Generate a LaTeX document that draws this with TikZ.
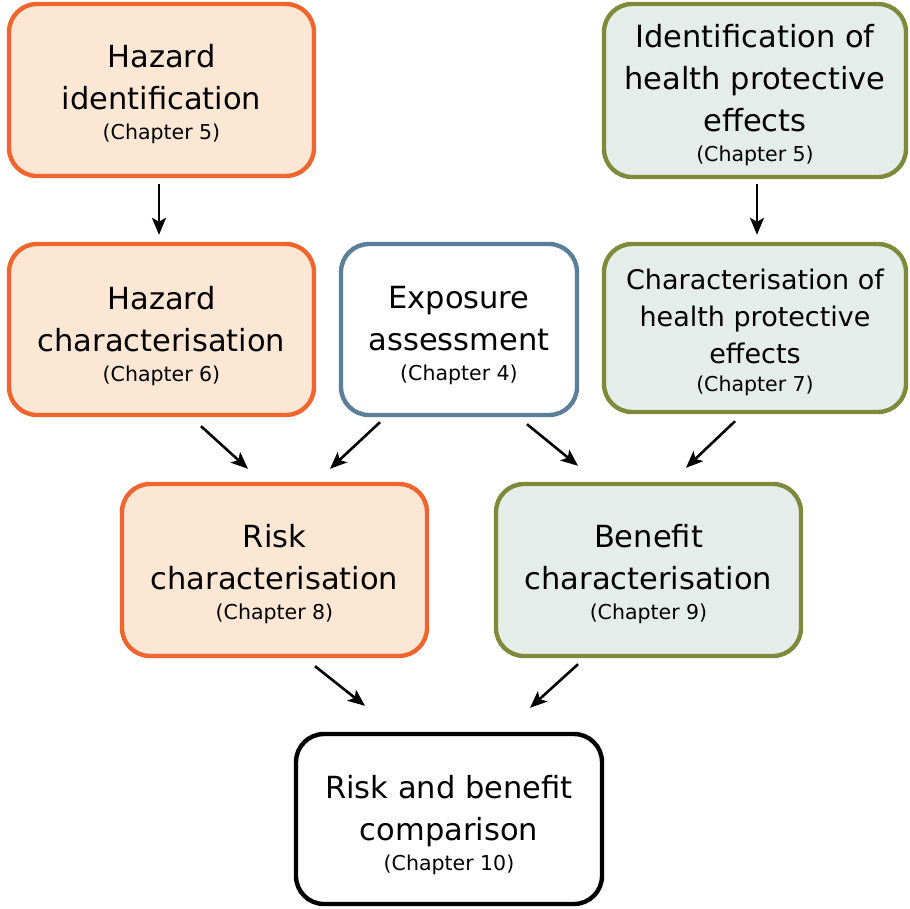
\documentclass[tikz,border=0pt]{standalone}
\usepackage{fontspec}
\setmainfont{DejaVu Sans}
\usetikzlibrary{arrows.meta}

\definecolor{riskline}{RGB}{240,100,45}
\definecolor{riskfill}{RGB}{252,231,212}
\definecolor{benline}{RGB}{126,138,58}
\definecolor{benfill}{RGB}{228,237,233}
\definecolor{expoline}{RGB}{91,126,153}

\tikzset{
  box/.style={draw, line width=4.4pt, rounded corners=28pt, inner sep=0pt},
  riskbox/.style={box, draw=riskline, fill=riskfill},
  benbox/.style={box, draw=benline, fill=benfill},
  expobox/.style={box, draw=expoline, fill=white},
  compbox/.style={box, draw=black, fill=white},
  boxtext/.style={align=center, inner sep=0pt, font=\fontsize{30.5}{42}\selectfont},
  smalltext/.style={align=center, inner sep=0pt, font=\fontsize{27}{37}\selectfont},
  arr/.style={line width=2.6pt, -{Stealth[length=17pt,width=14pt,inset=4pt]}}
}
\newcommand{\chap}[1]{{\fontsize{20.5}{24}\selectfont (Chapter #1)}}

\begin{document}
\begin{tikzpicture}[x=1pt,y=-1pt]
\useasboundingbox (0,0) rectangle (910,908);

% boxes
\node[riskbox, minimum width=305pt, minimum height=172pt] (hazid)   at (161.5,90) {};
\node[benbox,  minimum width=302pt, minimum height=173pt] (benid)   at (755,90.5) {};
\node[riskbox, minimum width=305pt, minimum height=171pt] (hazchar) at (161.5,329.5) {};
\node[expobox, minimum width=236pt, minimum height=171pt] (expo)    at (459,329.5) {};
\node[benbox,  minimum width=302pt, minimum height=168pt] (benchar) at (755,328) {};
\node[riskbox, minimum width=305pt, minimum height=172pt] (risk)    at (274.5,570) {};
\node[benbox,  minimum width=305pt, minimum height=172pt] (benefit) at (648.5,570) {};
\node[compbox, minimum width=306pt, minimum height=170pt] (comp)    at (449,819) {};

% box texts
\node[boxtext] (hazid-t)   at (161.5,94)  {Hazard\\identification\\[-12pt]\chap{5}};
\node[boxtext] (benid-t)   at (755,95.5)  {Identification of\\health protective\\effects\\[-12pt]\chap{5}};
\node[boxtext] (hazchar-t) at (161.5,336) {Hazard\\characterisation\\[-12pt]\chap{6}};
\node[boxtext] (expo-t)    at (459,336)   {Exposure\\assessment\\[-12pt]\chap{4}};
\node[smalltext] (benchar-t) at (755,332.5) {Characterisation of\\health protective\\effects\\[-9pt]\chap{7}};
\node[boxtext] (risk-t)    at (274.5,574.5) {Risk\\characterisation\\[-12pt]\chap{8}};
\node[boxtext] (benefit-t) at (648.5,574.5) {Benefit\\characterisation\\[-12pt]\chap{9}};
\node[boxtext] (comp-t)    at (449,825)   {Risk and benefit\\comparison\\[-12pt]\chap{10}};

% connectors
\draw[arr] ([shift={(-2.5,6)}]hazid.south)    -- ([shift={(-2.5,-7)}]hazchar.north);
\draw[arr] ([shift={(2,5)}]benid.south)       -- ([shift={(2,-7)}]benchar.north);
\draw[arr] ([shift={(39.5,9)}]hazchar.south)  -- ([shift={(-26.5,-13)}]risk.north);
\draw[arr] ([shift={(-79,5)}]expo.south)      -- ([shift={(55.5,-13)}]risk.north);
\draw[arr] ([shift={(68,7)}]expo.south)       -- ([shift={(-70.5,-16)}]benefit.north);
\draw[arr] ([shift={(-20,7)}]benchar.south)   -- ([shift={(37.5,-14)}]benefit.north);
\draw[arr] ([shift={(40.5,8)}]risk.south)     -- ([shift={(-84,-26)}]comp.north);
\draw[arr] ([shift={(-70.5,6)}]benefit.south) -- ([shift={(81,-24)}]comp.north);
\end{tikzpicture}
\end{document}
